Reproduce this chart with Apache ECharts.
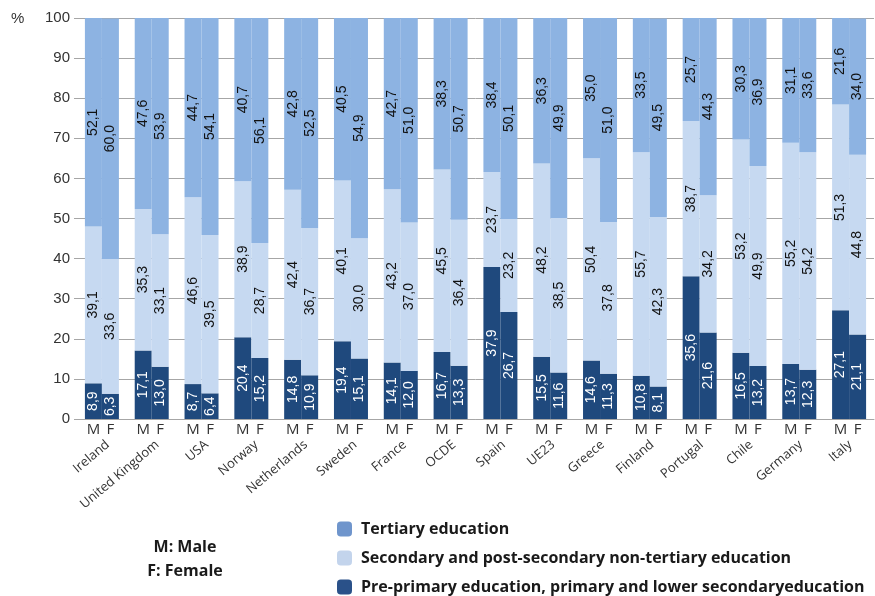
<!DOCTYPE html>
<html>
<head>
<meta charset="utf-8">
<script src="https://cdn.jsdelivr.net/npm/echarts@6/dist/echarts.min.js"></script>
<style>html,body{margin:0;padding:0;background:#fff}#c{width:875px;height:596px}</style>
</head>
<body>
<div id="c"></div>
<script>
var countries = ['Ireland','United Kingdom','USA','Norway','Netherlands','Sweden','France','OCDE','Spain','UE23','Greece','Finland','Portugal','Chile','Germany','Italy'];
var yTicks = [0,10,20,30,40,50,60,70,80,90,100];
// Male
var maleLower    = [8.9,17.1,8.7,20.4,14.8,19.4,14.1,16.7,37.9,15.5,14.6,10.8,35.6,16.5,13.7,27.1];
var maleSecond   = [39.1,35.3,46.6,38.9,42.4,40.1,43.2,45.5,23.7,48.2,50.4,55.7,38.7,53.2,55.2,51.3];
var maleTertiary = [52.1,47.6,44.7,40.7,42.8,40.5,42.7,38.3,38.4,36.3,35.0,33.5,25.7,30.3,31.1,21.6];
// Female
var femLower     = [6.3,13.0,6.4,15.2,10.9,15.1,12.0,13.3,26.7,11.6,11.3,8.1,21.6,13.2,12.3,21.1];
var femSecond    = [33.6,33.1,39.5,28.7,36.7,30.0,37.0,36.4,23.2,38.5,37.8,42.3,34.2,49.9,54.2,44.8];
var femTertiary  = [60.0,53.9,54.1,56.1,52.5,54.9,51.0,50.7,50.1,49.9,51.0,49.5,44.3,36.9,33.6,34.0];

var names = ['Tertiary education','Secondary and post-secondary non-tertiary education','Pre-primary education, primary and lower secondaryeducation'];
var cTer = '#8db3e2', cSec = '#c6d9f1', cLow = '#1f497d';
var legendCols = ['#6f95cc', '#c3d4ec', '#2a5189'];

function fmt(p){ return p.value.toFixed(1).replace('.', ','); }
function mk(name, stack, data, color, labColor){
  return {
    name: name, type: 'bar', stack: stack, data: data,
    barWidth: 17, barGap: '0%',
    itemStyle: {color: color},
    label: {show: true, position: 'inside', rotate: 90, formatter: fmt,
            color: labColor, fontSize: 14, fontFamily: 'Liberation Sans, Arial, sans-serif'},
    emphasis: {disabled: true}
  };
}
function lg(i, top){
  return {
    orient: 'vertical', left: 332, top: top, itemWidth: 15, itemHeight: 15,
    selectedMode: false,
    data: [{name: names[i], itemStyle: {color: legendCols[i]}}],
    textStyle: {fontFamily: 'Open Sans, sans-serif', fontWeight: 'bold', fontSize: 16, color: '#1a1a1a', padding: [0,0,0,4]}
  };
}

var chart = echarts.init(document.getElementById('c'), null, {renderer: 'canvas'});
chart.setOption({
  animation: false,
  grid: [
    {left: 77, right: 1, top: 18, bottom: 177},
    {left: 83, right: -5, top: 18, bottom: 177}
  ],
  legend: [lg(0, 516), lg(1, 545), lg(2, 574)],
  xAxis: [
    {type: 'category', data: countries, gridIndex: 0,
     axisLine: {lineStyle: {color: '#a6a6a6'}}, axisTick: {show: false},
     axisLabel: {interval: 0, margin: 3, formatter: function(){ return '{m|M}{f|F}'; },
       rich: {m: {width: 17, align: 'center', fontSize: 15, color: '#333', fontFamily: 'Open Sans, sans-serif'},
              f: {width: 17, align: 'center', fontSize: 15, color: '#333', fontFamily: 'Open Sans, sans-serif'}}}},
    {type: 'category', data: countries, gridIndex: 1, position: 'bottom', offset: 18,
     axisLine: {show: false}, axisTick: {show: false},
     axisLabel: {rotate: 40, margin: 6, fontSize: 13, color: '#333', fontFamily: 'Open Sans, sans-serif', interval: 0}}
  ],
  yAxis: [
    {type: 'value', gridIndex: 0, min: yTicks[0], max: yTicks[yTicks.length-1], interval: 10,
     axisLine: {show: false}, axisTick: {show: true, length: 3, lineStyle: {color: '#a6a6a6'}},
     axisLabel: {margin: 7, fontSize: 15, color: '#333', fontFamily: 'Liberation Sans, Arial, sans-serif'},
     splitLine: {lineStyle: {color: '#a6a6a6', width: 1}}},
    {type: 'value', gridIndex: 1, min: 0, max: 100, show: false}
  ],
  graphic: [
    {type: 'text', left: 11, top: 11, style: {text: '%', fontSize: 15, fill: '#333', fontFamily: 'Liberation Sans, Arial, sans-serif'}},
    {type: 'text', x: 185, y: 547, style: {text: 'M: Male', fontSize: 16, fontWeight: 'bold', fill: '#1a1a1a', fontFamily: 'Open Sans, sans-serif', align: 'center', verticalAlign: 'middle'}},
    {type: 'text', x: 185, y: 571, style: {text: 'F: Female', fontSize: 16, fontWeight: 'bold', fill: '#1a1a1a', fontFamily: 'Open Sans, sans-serif', align: 'center', verticalAlign: 'middle'}}
  ],
  series: [
    mk(names[2], 'M', maleLower, cLow, '#fff'),
    mk(names[1], 'M', maleSecond, cSec, '#111'),
    mk(names[0], 'M', maleTertiary, cTer, '#111'),
    mk(names[2], 'F', femLower, cLow, '#fff'),
    mk(names[1], 'F', femSecond, cSec, '#111'),
    mk(names[0], 'F', femTertiary, cTer, '#111')
  ]
});
</script>
</body>
</html>
